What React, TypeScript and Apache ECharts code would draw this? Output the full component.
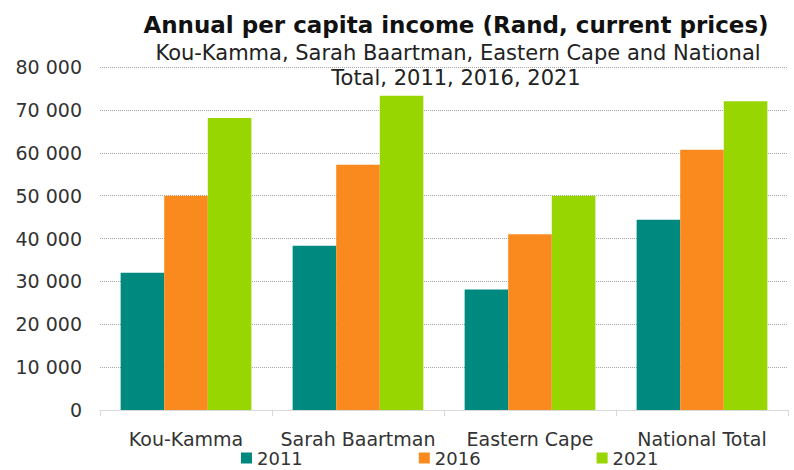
import React, { useEffect, useRef } from "react";
import * as echarts from "echarts";

const categories = ["Kou-Kamma", "Sarah Baartman", "Eastern Cape", "National Total"];
const seriesNames = ["2011", "2016", "2021"];
const values2011 = [32000, 38300, 28100, 44400];
const values2016 = [50000, 57200, 41000, 60700];
const values2021 = [68100, 73300, 50000, 72000];
const colors = ["#00897F", "#FA8A1E", "#97D600"];

const FONT = "DejaVu Sans";

export default function App() {
  const ref = useRef<HTMLDivElement>(null);
  useEffect(() => {
    if (!ref.current) return;
    const chart = echarts.init(ref.current, undefined, { renderer: "svg" });
    const data = [values2011, values2016, values2021];
    chart.setOption({
      animation: false,
      textStyle: { fontFamily: FONT },
      title: [
        {
          text: "Annual per capita income (Rand, current prices)",
          left: 451,
          top: 8,
          textAlign: "center",
          textStyle: { fontFamily: FONT, fontSize: 23, fontWeight: "bold", color: "#111" },
        },
        {
          text: "Kou-Kamma, Sarah Baartman, Eastern Cape and National",
          left: 453,
          top: 37,
          textAlign: "center",
          textStyle: { fontFamily: FONT, fontSize: 21, fontWeight: "normal", color: "#222" },
        },
        {
          text: "Total, 2011, 2016, 2021",
          left: 451,
          top: 62,
          textAlign: "center",
          textStyle: { fontFamily: FONT, fontSize: 21, fontWeight: "normal", color: "#222" },
        },
      ],
      legend: {
        data: seriesNames,
        left: 241,
        top: 449,
        itemWidth: 11,
        itemHeight: 11,
        itemGap: 116,
        icon: "rect",
        padding: 0,
        textStyle: { fontFamily: FONT, fontSize: 18, color: "#333" },
      },
      grid: { left: 100, right: 6, top: 67, bottom: 60, containLabel: false },
      xAxis: {
        type: "category",
        data: categories,
        axisLine: { show: true, lineStyle: { color: "#d9d9d9", width: 1 } },
        axisTick: { show: true, length: 6, lineStyle: { color: "#d9d9d9" } },
        axisLabel: { fontFamily: FONT, fontSize: 19, color: "#333", margin: 19, interval: 0 },
      },
      yAxis: {
        type: "value",
        min: 0,
        max: 80000,
        interval: 10000,
        axisLine: { show: false },
        axisTick: { show: false },
        splitLine: { show: true, lineStyle: { color: "#a6a6a6", type: "dotted", width: 1 } },
        axisLabel: {
          fontFamily: FONT,
          fontSize: 19,
          color: "#333",
          margin: 18,
          formatter: (v: number) => (v === 0 ? "0" : String(v).replace(/\B(?=(\d{3})+(?!\d))/g, " ")),
        },
      },
      series: seriesNames.map((name, i) => ({
        name,
        type: "bar",
        data: data[i],
        barGap: "0%",
        barCategoryGap: "24%",
        itemStyle: { color: colors[i] },
      })),
    });
    return () => chart.dispose();
  }, []);
  return <div ref={ref} style={{ width: 794, height: 470, position: "absolute", left: 0, top: 0 }} />;
}
